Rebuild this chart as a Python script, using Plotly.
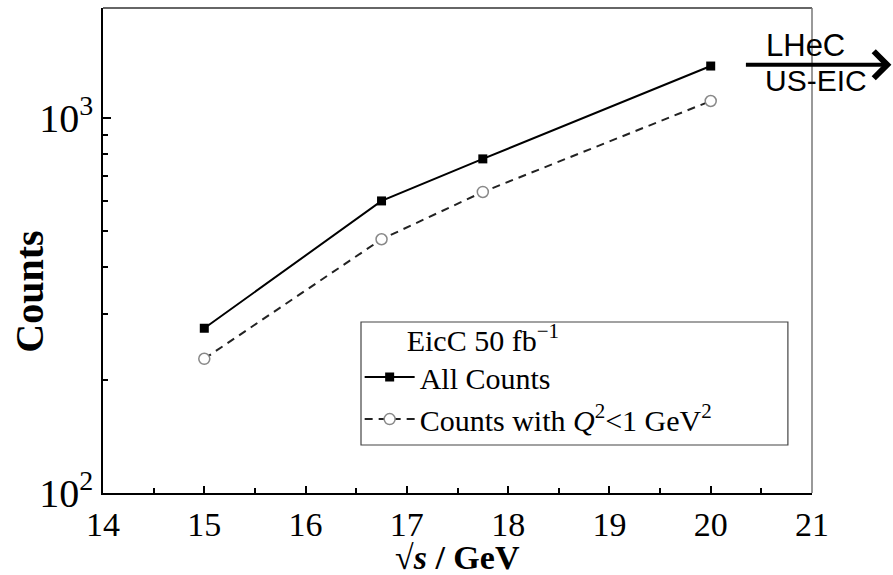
import numpy as np
import plotly.graph_objects as go

# Centre-of-mass energies (GeV) and event counts
sqrt_s = [15, 16.75, 17.75, 20]
all_counts = [275, 601, 778, 1376]
low_q2_counts = [228, 475, 635, 1110]

x_ticks = [14, 15, 16, 17, 18, 19, 20, 21]
y_ticks = [100, 1000]
y_tick_text = ["10<sup>2</sup>", "10<sup>3</sup>"]
y_minor = [200, 300, 400, 500, 600, 700, 800, 900]

serif = "Liberation Serif"
sans = "Liberation Sans"

fig = go.Figure()

fig.add_trace(go.Scatter(
    x=sqrt_s, y=all_counts, mode="lines+markers",
    name="All Counts",
    line=dict(color="black", width=2),
    marker=dict(symbol="square", size=9, color="black"),
))
fig.add_trace(go.Scatter(
    x=sqrt_s, y=low_q2_counts, mode="lines+markers",
    name="Counts with <i>Q</i><sup>2</sup>&lt;1 GeV<sup>2</sup>",
    line=dict(color="#222", width=2, dash="8px,6px"),
    marker=dict(symbol="circle", size=11, color="white",
                line=dict(color="#888", width=1.5)),
))

fig.update_layout(
    width=893, height=575,
    margin=dict(l=103, r=81, t=8, b=82),
    paper_bgcolor="white", plot_bgcolor="white",
    font=dict(family=serif, color="black", size=32),
    showlegend=True,
    legend=dict(
        x=0.362, y=0.373, xanchor="left", yanchor="top",
        bgcolor="rgba(0,0,0,0)", borderwidth=0,
        font=dict(family=serif, size=30),
        title=dict(text="&nbsp;&nbsp;&nbsp;&nbsp;&nbsp;&nbsp;EicC 50 fb<sup>−1</sup>",
                   font=dict(family=serif, size=30)),
        itemwidth=50, tracegroupgap=0,
    ),
    xaxis=dict(
        range=[14, 21], tickvals=x_ticks,
        ticks="inside", ticklen=7, tickwidth=1.5, tickcolor="black",
        showline=True, linecolor="black", linewidth=1.5,
        showgrid=False, zeroline=False,
        tickfont=dict(family=serif, size=34),
        minor=dict(dtick=0.5, ticks="inside", ticklen=5, tickcolor="black", showgrid=False),
    ),
    yaxis=dict(
        type="log", range=[2, np.log10(1965)],
        tickvals=y_ticks, ticktext=y_tick_text,
        ticks="inside", ticklen=8, tickwidth=1.5, tickcolor="black",
        showline=True, linecolor="black", linewidth=1.5,
        showgrid=False, zeroline=False,
        tickfont=dict(family=serif, size=40),
        minor=dict(tickvals=y_minor, ticks="inside", ticklen=5, tickcolor="black", showgrid=False),
    ),
)

# Top and right frame edges
fig.add_shape(type="line", xref="paper", yref="paper", x0=0, x1=1, y0=1, y1=1,
              line=dict(color="#333", width=1.5))
fig.add_shape(type="line", xref="paper", yref="paper", x0=1, x1=1, y0=0, y1=1,
              line=dict(color="#777", width=1.5))

# Legend frame
fig.add_shape(type="rect", xref="paper", yref="paper",
              x0=0.3639, x1=0.966, y0=0.099, y1=0.3526,
              line=dict(color="#444", width=1.2), fillcolor="white", layer="below")

# Axis titles
fig.add_annotation(text="<b>√<i>s</i> / GeV</b>", xref="paper", yref="paper",
                   x=0.5, y=-0.133, xanchor="center", yanchor="middle", showarrow=False,
                   font=dict(family=serif, size=34))
fig.add_annotation(text="<b>Counts</b>", xref="paper", yref="paper",
                   x=-0.103, y=0.415, xanchor="center", yanchor="middle",
                   textangle=-90, showarrow=False,
                   font=dict(family=serif, size=40))

# Higher-energy facilities off the right of the plot
fig.add_annotation(text="", xref="paper", yref="paper",
                   x=1.112, y=0.883, ax=-147, ay=0,
                   showarrow=True, arrowhead=4, arrowsize=1.3, arrowwidth=4,
                   arrowcolor="black")
fig.add_annotation(text="LHeC", xref="paper", yref="paper",
                   x=0.9915, y=0.922, xanchor="center", yanchor="middle", showarrow=False,
                   font=dict(family=sans, size=31, color="black"))
fig.add_annotation(text="US-EIC", xref="paper", yref="paper",
                   x=1.0056, y=0.85, xanchor="center", yanchor="middle", showarrow=False,
                   font=dict(family=sans, size=30, color="black"))

fig.write_html("out.html")
